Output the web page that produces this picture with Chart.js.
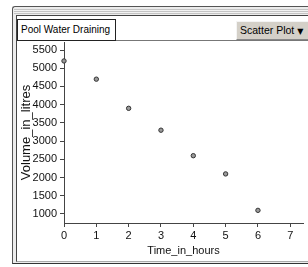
<!DOCTYPE html>
<html>
<head>
<meta charset="utf-8">
<script src="https://cdn.jsdelivr.net/npm/chart.js@4/dist/chart.umd.min.js"></script>
<style>
html, body { margin: 0; padding: 0; width: 308px; height: 267px; overflow: hidden; background: #fff; font-family: "Liberation Sans", Arial, sans-serif; }
#outer { position: absolute; left: 12px; top: 6px; width: 310px; height: 256px; border-left: 1px solid #555; border-top: 1px solid #555; border-bottom: 1px solid #333; border-top-left-radius: 3px; background: #ececec; }
#stripes { position: absolute; left: 14px; top: 9px; width: 300px; height: 5px; background: repeating-linear-gradient(#c4c4c4 0 1px, #f2f2f2 1px 2px); }
#inner { position: absolute; left: 16px; top: 15px; width: 300px; height: 245px; border-left: 1px solid #444; border-top: 1px solid #444; border-bottom: 1px solid #aaa; background: #fff; }
#hdr { position: absolute; left: 17px; top: 40px; width: 300px; height: 1px; background: #777; }
#ttl { position: absolute; left: 17px; top: 19px; width: 99px; height: 22px; box-sizing: border-box; border: 1px solid #222; font-size: 10px; line-height: 20px; padding-left: 3px; color: #000; background: #fff; white-space: nowrap; }
#dd { position: absolute; left: 236px; top: 21px; width: 80px; height: 19px; box-sizing: border-box; background: #d4d0c8; border-top: 1px solid #f4f4f4; border-left: 1px solid #f4f4f4; border-bottom: 1px solid #888; font-size: 10.5px; line-height: 17px; padding-left: 3px; color: #000; white-space: nowrap; }
#dd span { font-family: "DejaVu Sans", sans-serif; font-size: 8px; }
canvas { position: absolute; left: 0; top: 0; }
</style>
</head>
<body>
<div id="outer"></div>
<div id="stripes"></div>
<div id="inner"></div>
<div id="hdr"></div>
<canvas id="plot" width="308" height="267"></canvas>
<div id="ttl">Pool Water Draining</div>
<div id="dd">Scatter Plot <span>▼</span></div>
<script>
// data
const hours = [0, 1, 2, 3, 4, 5, 6];
const litres = [5200, 4700, 3900, 3300, 2600, 2100, 1100];
const xTicks = [0, 1, 2, 3, 4, 5, 6, 7];
const yTicks = [1000, 1500, 2000, 2500, 3000, 3500, 4000, 4500, 5000, 5500];

const points = hours.map((h, i) => ({ x: h, y: litres[i] }));
const tickFont = { family: '"Liberation Sans", Arial, sans-serif', size: 11 };

new Chart(document.getElementById('plot').getContext('2d'), {
    type: 'scatter',
    data: {
        datasets: [{
            data: points,
            pointRadius: 2.2,
            pointBackgroundColor: '#9a9a9a',
            pointBorderColor: '#333',
            pointBorderWidth: 1,
            clip: false
        }]
    },
    options: {
        responsive: false,
        devicePixelRatio: 1,
        animation: false,
        events: [],
        layout: { padding: { left: 0, top: 42, right: 0, bottom: 0 } },
        plugins: { legend: { display: false }, tooltip: { enabled: false } },
        scales: {
            x: {
                type: 'linear',
                min: 0,
                max: 7.394,
                afterBuildTicks: s => { s.ticks = xTicks.map(v => ({ value: v })); },
                afterFit: s => { s.height = 44; },
                grid: { drawOnChartArea: false, tickLength: 4, color: '#444' },
                border: { color: '#444', width: 1 },
                ticks: { font: tickFont, color: '#111', padding: 2, maxRotation: 0, callback: v => String(v) },
                title: { display: true, text: 'Time_in_hours', font: tickFont, color: '#111', padding: { top: 0, bottom: 9 } }
            },
            y: {
                type: 'linear',
                min: 753,
                max: 5720,
                afterBuildTicks: s => { s.ticks = yTicks.map(v => ({ value: v })); },
                afterFit: s => { s.width = 64; },
                grid: { drawOnChartArea: false, tickLength: 4, color: '#444' },
                border: { color: '#444', width: 1 },
                ticks: { font: tickFont, color: '#111', padding: 3, callback: v => String(v) },
                title: { display: true, text: 'Volume_in_litres', font: { family: '"Liberation Sans", Arial, sans-serif', size: 13 }, color: '#111', padding: { top: 19, bottom: 0 } }
            }
        }
    }
});
</script>
</body>
</html>
